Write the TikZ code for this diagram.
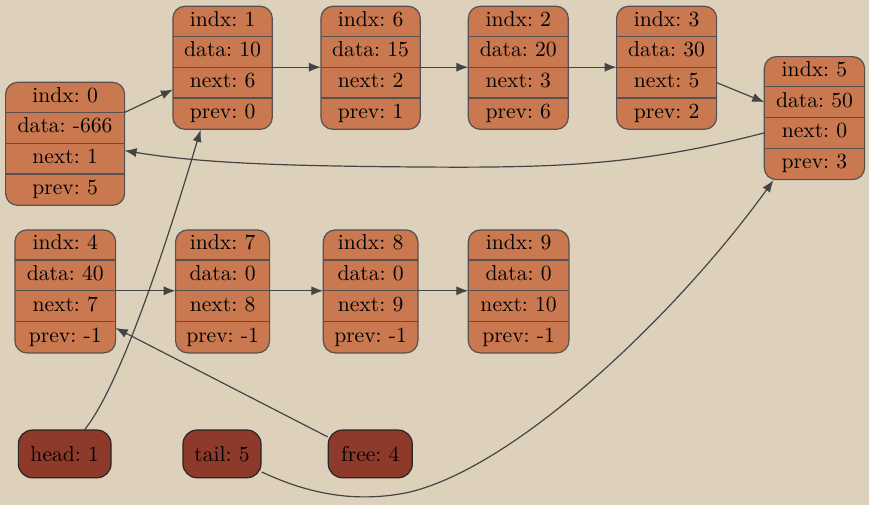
\documentclass[tikz,border=0pt]{standalone}
\usetikzlibrary{positioning,arrows.meta}
\frenchspacing
\definecolor{bgc}{HTML}{DED1BC}
\definecolor{recfill}{HTML}{C97850}
\definecolor{recline}{HTML}{565050}
\definecolor{ptrfill}{HTML}{8E3A2B}
\definecolor{edgec}{HTML}{444444}
\tikzset{
  rec/.style={draw=recline, fill=recfill, line width=0.6pt, rounded corners=6pt, minimum height=61.5pt, inner sep=0pt, anchor=north west},
  field/.style={minimum height=15.375pt, inner sep=0pt, outer sep=0pt, text height=7.4pt, text depth=2.3pt, font=\fontsize{10.8}{12}\selectfont},
  sep/.style={draw=recline, line width=0.6pt},
  ptr/.style={draw=black!85, fill=ptrfill, line width=0.6pt, rounded corners=7pt, minimum height=23.85pt, inner sep=0pt, font=\fontsize{10.8}{12}\selectfont},
  edge/.style={->, >={Latex[length=6pt,width=4.6pt]}, draw=edgec, line width=0.6pt}
}
% one list cell: name, left, top, width (px), indx, data, next, prev
\newcommand{\mkrec}[8]{%
  \node[rec, minimum width=#4*0.5pt] (#1) at (#2,#3) {};
  \node[field, minimum width=#4*0.5pt, anchor=north] (#1-i) at (#1.north) {indx: #5};
  \node[field, minimum width=#4*0.5pt, below=0pt of #1-i] (#1-d) {data: #6};
  \node[field, minimum width=#4*0.5pt, below=0pt of #1-d] (#1-n) {next: #7};
  \node[field, minimum width=#4*0.5pt, below=0pt of #1-n] (#1-p) {prev: #8};
  \draw[sep] (#1-i.south west) -- (#1-i.south east) (#1-d.south west) -- (#1-d.south east) (#1-n.south west) -- (#1-n.south east);
}
\begin{document}
\begin{tikzpicture}[x=0.5pt, y=-0.5pt]
	\fill[bgc] (0,0) rectangle (869,505);
	\useasboundingbox (0,0) rectangle (869,505);
	% used cells
	\mkrec{r0}{5}{81.7}{119}{0}{-666}{1}{5}
	\mkrec{r1}{172.3}{5.7}{99.4}{1}{10}{6}{0}
	\mkrec{r6}{320.3}{5.7}{99.4}{6}{15}{2}{1}
	\mkrec{r2}{467.7}{5.7}{100}{2}{20}{3}{6}
	\mkrec{r3}{616}{5.7}{100}{3}{30}{5}{2}
	\mkrec{r5}{763.7}{56}{100.3}{5}{50}{0}{3}
	% free cells
	\mkrec{r4}{14.3}{229.3}{100.7}{4}{40}{7}{-1}
	\mkrec{r7}{175}{229.3}{94}{7}{0}{8}{-1}
	\mkrec{r8}{322.7}{229.3}{94.6}{8}{0}{9}{-1}
	\mkrec{r9}{467.7}{229.3}{100.6}{9}{0}{10}{-1}
	% pointers
	\node[ptr, minimum width=46.35pt] (hd) at (64.7,453.9) {head: 1};
	\node[ptr, minimum width=39pt] (tl) at (222,453.9) {tail: 5};
	\node[ptr, minimum width=42pt] (fr) at (370.3,453.9) {free: 4};
	\draw[edge] (r0-i.south east) -- ([yshift=-3.5pt]r1-n.west);
	\draw[edge] (r1-d.south east) -- (r6-d.south west);
	\draw[edge] (r6-d.south east) -- (r2-d.south west);
	\draw[edge] (r2-d.south east) -- (r3-d.south west);
	\draw[edge] (r3-n.east) -- (r5-d.west);
	\draw[edge] (r5-n.west) .. controls (640,165) and (560,168) .. (420,167) .. controls (280,166) and (200,163) .. ([yshift=4pt]r0-n.east);
	\draw[edge] (r4-d.south east) -- (r7-d.south west);
	\draw[edge] (r7-d.south east) -- (r8-d.south west);
	\draw[edge] (r8-d.south east) -- (r9-d.south west);
	\draw[edge] ([xshift=10pt]hd.north) .. controls (125,380) and (178,205) .. ([xshift=-11pt]r1.south);
	\draw[edge] ([yshift=-9pt]tl.east) .. controls (300,490) and (350,505) .. (410,492) .. controls (520,465) and (680,310) .. ([xshift=-20.5pt]r5.south);
	\draw[edge] ([yshift=8.5pt]fr.west) -- ([yshift=4.5pt]r4-p.east);
\end{tikzpicture}
\end{document}
